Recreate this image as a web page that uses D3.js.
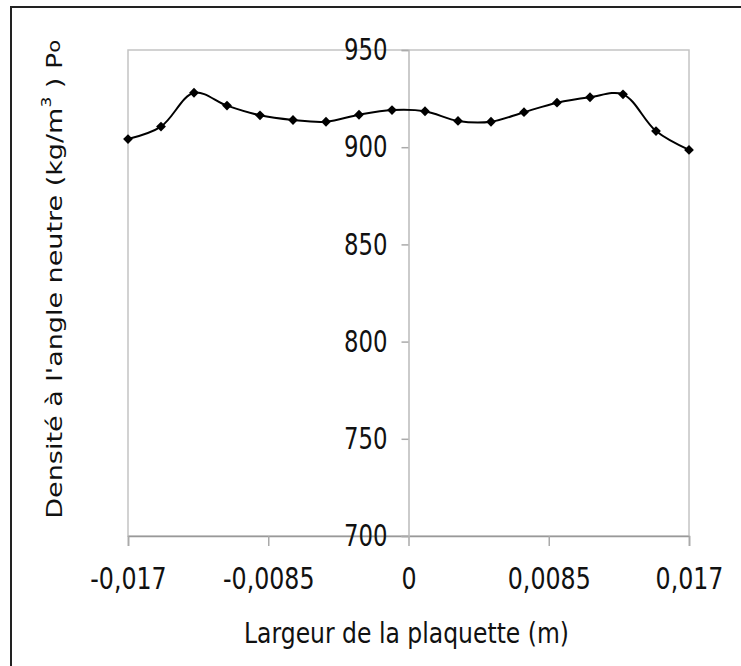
<!DOCTYPE html>
<html>
<head>
<meta charset="utf-8">
<script src="https://cdn.jsdelivr.net/npm/d3@7"></script>
<style>
  html, body { margin: 0; background: #fff; overflow: hidden; }
  svg { display: block; }
  text { font-family: "DejaVu Sans", Verdana, sans-serif; fill: #111; }
</style>
</head>
<body>
<div id="chart"></div>
<script>
// valeurs
const largeur = [-0.017, -0.015, -0.013, -0.011, -0.009, -0.007, -0.005, -0.003, -0.001,
                 0.001, 0.003, 0.005, 0.007, 0.009, 0.011, 0.013, 0.015, 0.017];
const densite = [904.2, 910.6, 928.0, 921.4, 916.4, 914.0, 913.1, 916.7, 919.1,
                 918.5, 913.5, 913.1, 918.0, 922.9, 925.7, 927.2, 908.3, 898.6];
const xTicks = [-0.017, -0.0085, 0, 0.0085, 0.017];
const yTicks = [700, 750, 800, 850, 900, 950];

const W = 741, H = 666;
const plot = { left: 128, right: 689, top: 50, bottom: 536 };

const svg = d3.select("#chart").append("svg")
    .attr("width", W)
    .attr("height", H);

// cadre extérieur : seuls les bords gauche et haut sont visibles
svg.append("path")
    .attr("d", "M11," + H + "V7H" + W)
    .attr("fill", "none")
    .attr("stroke", "#222")
    .attr("stroke-width", 2);

const x = d3.scaleLinear().domain([-0.017, 0.017]).range([plot.left, plot.right]);
const y = d3.scaleLinear().domain([700, 950]).range([plot.bottom, plot.top]);

// comprime le texte horizontalement
function squeeze(sel, k) {
    sel.each(function () {
        const w = this.getComputedTextLength();
        d3.select(this).attr("textLength", w * k).attr("lengthAdjust", "spacingAndGlyphs");
    });
}

const fmt = d => String(d).replace(".", ",");

// zone de tracé
svg.append("rect")
    .attr("x", plot.left).attr("y", plot.top)
    .attr("width", plot.right - plot.left)
    .attr("height", plot.bottom - plot.top)
    .attr("fill", "none")
    .attr("stroke", "#c4c4c4")
    .attr("stroke-width", 1.5);

// axe X en bas
const gx = svg.append("g")
    .attr("transform", "translate(0," + plot.bottom + ")")
    .call(d3.axisBottom(x).tickValues(xTicks).tickFormat(fmt).tickSize(10).tickPadding(22));
gx.select(".domain").attr("stroke", "#999").attr("stroke-width", 1.5);
gx.selectAll(".tick line").attr("stroke", "#aaa").attr("stroke-width", 1.5);
gx.selectAll(".tick text")
    .attr("font-size", 30)
    .attr("fill", "#111")
    .attr("font-family", "DejaVu Sans")
    .attr("dy", "0.71em")
    .call(squeeze, 0.79);

// axe Y sur x = 0
const gy = svg.append("g")
    .attr("transform", "translate(" + x(0) + ",0)")
    .call(d3.axisLeft(y).tickValues(yTicks).tickFormat(fmt).tickSize(7).tickPadding(14));
gy.select(".domain").attr("stroke", "#bbb").attr("stroke-width", 1.5);
gy.selectAll(".tick line").attr("stroke", "#aaa").attr("stroke-width", 1.5);
gy.selectAll(".tick text")
    .attr("font-size", 30)
    .attr("fill", "#111")
    .attr("font-family", "DejaVu Sans")
    .call(squeeze, 0.76);

// courbe lissée
const pts = largeur.map((v, i) => [v, densite[i]]);
svg.append("path")
    .datum(pts)
    .attr("fill", "none")
    .attr("stroke", "#000")
    .attr("stroke-width", 2)
    .attr("d", d3.line()
        .x(d => x(d[0]))
        .y(d => y(d[1]))
        .curve(d3.curveCatmullRom.alpha(0.5)));

svg.selectAll(".pt")
    .data(pts)
    .enter()
    .append("path")
    .attr("class", "pt")
    .attr("transform", d => "translate(" + x(d[0]) + "," + y(d[1]) + ") rotate(45)")
    .attr("d", d3.symbol().type(d3.symbolSquare).size(48))
    .attr("fill", "#000");

// titre X
svg.append("text")
    .attr("x", (plot.left + plot.right) / 2 - 2)
    .attr("y", 643)
    .attr("text-anchor", "middle")
    .attr("font-size", 29)
    .text("Largeur de la plaquette (m)")
    .call(squeeze, 0.81);

// titre Y
const yt = svg.append("text")
    .attr("transform", "translate(62,40) rotate(-90) scale(1,0.8)")
    .attr("text-anchor", "end")
    .attr("font-size", 27);
yt.append("tspan").text("Densité à l'angle neutre (kg/m");
yt.append("tspan").attr("font-size", 17).attr("dy", -14).text("3");
yt.append("tspan").attr("dy", 14).text(" ) P");
yt.append("tspan").attr("font-size", 21).attr("dy", -3).text("o");
</script>
</body>
</html>
